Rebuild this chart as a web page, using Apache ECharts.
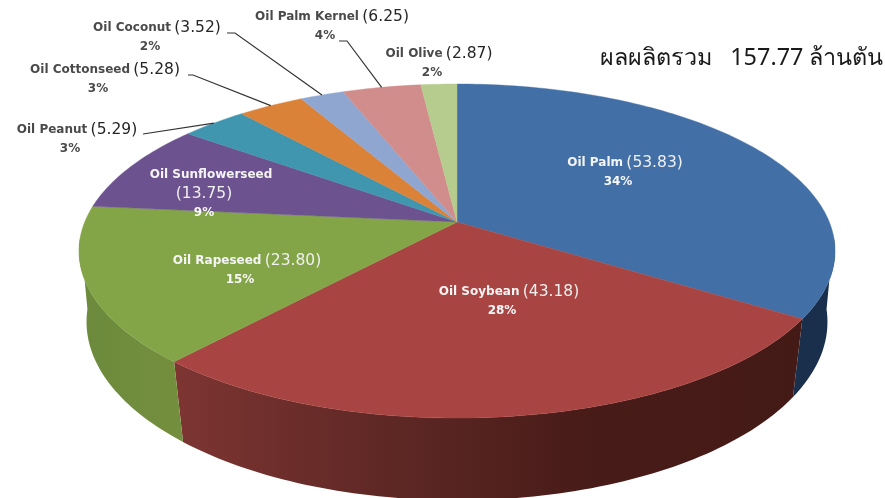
<!DOCTYPE html>
<html><head><meta charset="utf-8">
<style>html,body{margin:0;padding:0;background:#fff}#c{width:885px;height:498px}</style>
<script src="https://cdn.jsdelivr.net/npm/echarts@6/dist/echarts.min.js"></script>
</head><body><div id="c"></div>
<script>
// ---- data ----
const categories = ['Oil Palm','Oil Soybean','Oil Rapeseed','Oil Sunflowerseed','Oil Peanut','Oil Cottonseed','Oil Coconut','Oil Palm Kernel','Oil Olive'];
const values = [53.83,43.18,23.80,13.75,5.29,5.28,3.52,6.25,2.87];
const valueLabels = ['(53.83)','(43.18)','(23.80)','(13.75)','(5.29)','(5.28)','(3.52)','(6.25)','(2.87)'];
const percentLabels = ['34%','28%','15%','9%','3%','3%','2%','4%','2%'];
const totalLabel = 'ผลผลิตรวม   157.77 ล้านตัน';

// ---- styles and layout ----
const topColors = ['#4270a6','#a84542','#83a548','#6d5290','#3f96ae','#db8239','#8fa6d0','#d08d8c','#b5cc8e'];
const wallColors = [
  ['#1a2f4c','#1a2f4c'],
  ['#7d3532','#5f2825','#471b18','#441a17'],
  ['#6c8a3c','#748f3e'],
  ['#5a4672','#5a4672'],['#33778a','#33778a'],['#ae6930','#ae6930'],['#7586a5','#7586a5'],['#a67574','#a67574'],['#93a377','#93a377']
];
const labelPos = [[625,163],[509,292],[247,261],[211,175],[77,130],[105,70],[157,28],[332,17],[439,54]];
const innerLabel = [true,true,true,true,false,false,false,false,false];
const leaderStart = [null,null,null,null,[143,134],[188,75],[227,33],[339,41],null];
const leaderElbow = [null,null,null,null,null,[193,75],[235,33],[347,41],null];

// ---- perspective projection of the pie's top and bottom discs ----
const CX = 457;
const TOP = {cy:222, b:372.3, a:162, k:0.1737};
const BOT = {cy:294, b:365.9, a:174, k:0.1565};
const WALL_FROM = 95*Math.PI/180, WALL_TO = 265*Math.PI/180;
const total = values.reduce((a,b)=>a+b,0);
const starts = values.map((_,i)=>values.slice(0,i).reduce((a,b)=>a+b,0)/total*Math.PI*2);
const ends = values.map((v,i)=>starts[i]+v/total*Math.PI*2);
function project(disc,t){
  const x = Math.sin(t), z = -Math.cos(t), d = 1-disc.k*z;
  return [CX+disc.b*x/d, disc.cy+disc.a*z/d];
}
const topPt = t=>project(TOP,t), botPt = t=>project(BOT,t);
function arc(t0,t1,fn){
  const n = Math.max(2,Math.ceil((t1-t0)/0.02)), out=[];
  for(let j=0;j<=n;j++) out.push(fn(t0+(t1-t0)*j/n));
  return out;
}
function gradient(stops){
  return {type:'linear',x:0,y:0,x2:1,y2:0,colorStops:stops.map((c,i)=>({offset:i/(stops.length-1),color:c}))};
}
const seriesData = values.map((v,i)=>({name:categories[i],value:v}));
const FONT = '"DejaVu Sans"';

const option = {
  animation:false,
  backgroundColor:'#fff',
  series:[
    { type:'custom', coordinateSystem:'none', z:1, silent:true, data:seriesData,
      renderItem(params){
        const i = params.dataIndex;
        const t0 = Math.max(starts[i],WALL_FROM), t1 = Math.min(ends[i],WALL_TO);
        if(t0>=t1) return null;
        const pts = arc(t0,t1,topPt).concat(arc(t0,t1,botPt).reverse());
        return {type:'polygon',shape:{points:pts},style:{fill:gradient(wallColors[i])}};
      }},
    { type:'custom', coordinateSystem:'none', z:2, silent:true, data:seriesData,
      renderItem(params){
        const i = params.dataIndex;
        const pts = [[CX,TOP.cy]].concat(arc(starts[i],ends[i],topPt));
        return {type:'polygon',shape:{points:pts},style:{fill:topColors[i],stroke:topColors[i],lineWidth:0.4}};
      }},
    { type:'custom', coordinateSystem:'none', z:3, silent:true, data:seriesData,
      renderItem(params){
        const i = params.dataIndex, kids = [];
        const inner = innerLabel[i];
        const nameCol = inner?'#f4f4f4':'#4a4a4a', valCol = inner?'#f0f0f0':'#262626', pctCol = inner?'#f8f8f8':'#4a4a4a';
        const [lx,ly] = labelPos[i];
        const rich = {
          n:{fontFamily:FONT,fontWeight:'bold',fontSize:12,fill:nameCol,color:nameCol},
          v:{fontFamily:FONT,fontSize:15.5,fill:valCol,color:valCol}
        };
        const txt = (x,y,text,style)=>({type:'text',x:x,y:y,style:Object.assign({text:text,align:'center',verticalAlign:'middle'},style)});
        const pctStyle = {fontFamily:FONT,fontWeight:'bold',fontSize:12,fill:pctCol};
        if(categories[i]==='Oil Sunflowerseed'){
          kids.push(txt(lx,ly,categories[i],{fontFamily:FONT,fontWeight:'bold',fontSize:12,fill:nameCol}));
          kids.push(txt(lx-7,ly+19,valueLabels[i],{fontFamily:FONT,fontSize:15.5,fill:valCol}));
          kids.push(txt(lx-7,ly+38,percentLabels[i],pctStyle));
        } else {
          kids.push(txt(lx,ly,'{n|'+categories[i]+'} {v|'+valueLabels[i]+'}',{rich:rich}));
          kids.push(txt(lx-7,ly+19,percentLabels[i],pctStyle));
        }
        if(leaderStart[i]){
          const line=[leaderStart[i]];
          if(leaderElbow[i]) line.push(leaderElbow[i]);
          line.push(topPt((starts[i]+ends[i])/2));
          kids.push({type:'polyline',shape:{points:line},style:{fill:null,stroke:'#333333',lineWidth:1.2}});
        }
        return {type:'group',children:kids};
      }}
  ],
  graphic:[{type:'text',left:600,top:47,style:{text:totalLabel,fontFamily:'"Noto Sans","DejaVu Sans",sans-serif',fontSize:23.4,fill:'#1a1a1a'}}]
};
const chart = echarts.init(document.getElementById('c'),null,{renderer:'canvas',width:885,height:498});
chart.setOption(option);
</script>
</body></html>
